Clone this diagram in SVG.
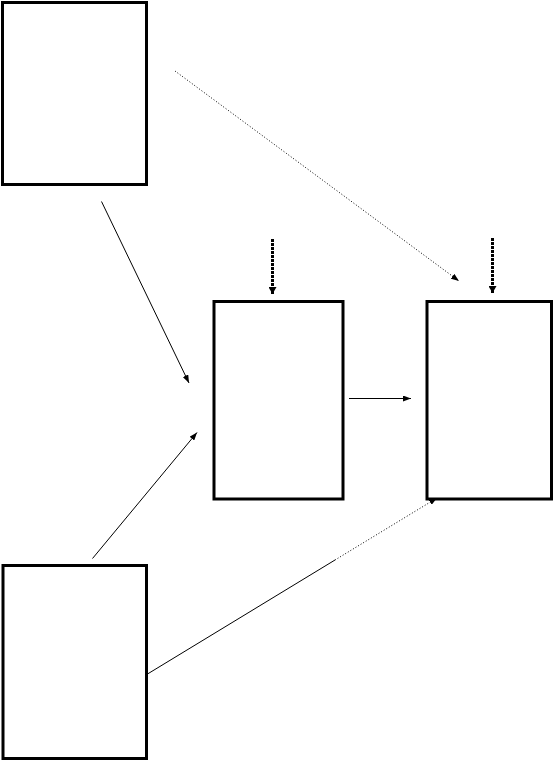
<svg xmlns="http://www.w3.org/2000/svg" width="553" height="761" viewBox="0 0 553 761">
<style>
.box{fill:#fff;stroke:#000;stroke-width:3}
.thin{fill:none;stroke:#000;stroke-width:1}
.dot{fill:none;stroke:#000;stroke-width:1;stroke-dasharray:1 2}
.thick{fill:none;stroke:#000;stroke-width:3;stroke-dasharray:2.7 1.3;shape-rendering:crispEdges}
</style>
<defs>
<marker id="ah" markerUnits="userSpaceOnUse" markerWidth="8" markerHeight="6" refX="8" refY="3" orient="auto">
<path d="M0,0 L8,3 L0,6 z" fill="#000"/>
</marker>
<marker id="ahb" markerUnits="userSpaceOnUse" markerWidth="8" markerHeight="8" refX="7" refY="4" orient="auto">
<path d="M0,0 L7,4 L0,8 z" fill="#000"/>
</marker>
</defs>
<rect width="553" height="761" fill="#fff"/>
<g id="node1"><rect class="box" x="2.5" y="2.5" width="144" height="182"/></g>
<g id="node2"><rect class="box" x="214" y="301.5" width="129" height="197.5"/></g>
<g id="node3"><rect class="box" x="427" y="301.5" width="124.5" height="197.5"/></g>
<g id="node4"><rect class="box" x="3" y="565.5" width="143.5" height="193"/></g>
<g id="connectors">
<line class="dot" x1="175" y1="71" x2="459" y2="281" marker-end="url(#ah)"/>
<line class="thin" x1="101.5" y1="201.5" x2="189" y2="383" marker-end="url(#ah)"/>
<line class="thin" x1="92.5" y1="558.5" x2="197" y2="432.5" marker-end="url(#ah)"/>
<line class="thin" x1="349" y1="398.5" x2="411" y2="398.5" marker-end="url(#ah)"/>
<line class="thick" x1="272.5" y1="239" x2="272.5" y2="294" marker-end="url(#ahb)"/>
<line class="thick" x1="492.5" y1="238" x2="492.5" y2="293" marker-end="url(#ahb)"/>
<line class="thin" x1="147.5" y1="674" x2="335" y2="560"/>
<line class="dot" x1="335" y1="560" x2="437" y2="498" marker-end="url(#ah)"/>
</g>
</svg>
